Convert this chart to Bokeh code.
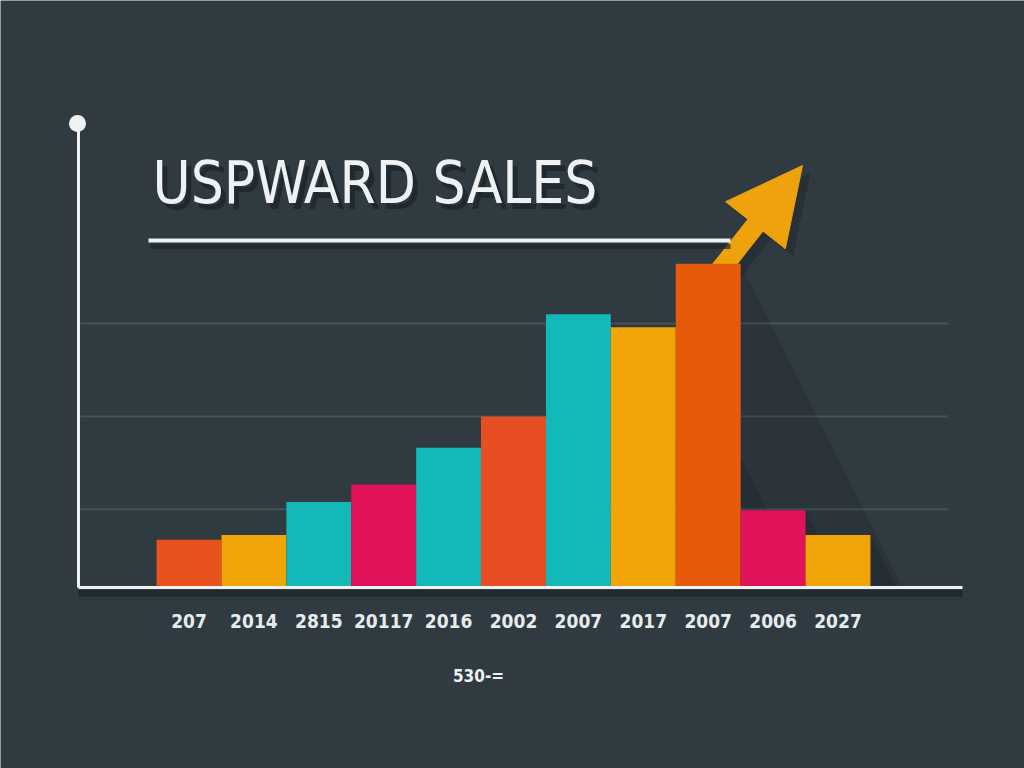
from bokeh.plotting import figure
from bokeh.models import Range1d, Arrow, NormalHead
from bokeh.core.properties import value
from bokeh.embed import file_html
from bokeh.resources import INLINE

# ---- data ----
labels = ["207", "2014", "2815", "20117", "2016", "2002", "2007", "2017", "2007", "2006", "2027"]
sales = [52, 57, 93, 112, 152, 186, 297, 283, 352, 84, 57]
colors = ["#e8521f", "#f0a406", "#13b9b8", "#e0135a", "#13b9b8", "#e84e24",
          "#13b9b8", "#f0a406", "#e65b09", "#e0135a", "#f0a406"]
grid_values = [85, 186, 287]
title = "USPWARD SALES"
note = "530-="

# ---- layout / style ----
W, H = 1024, 768
BG = "#2f3a41"
WHITE = "#eef2f3"
ORANGE = "#eea20c"
SHADOW = "#1d262b"
FONT = value("DejaVu Sans Condensed, DejaVu Sans, sans-serif")

X0PX, DXPX = 188.5, 64.9   # pixel centre of first category, px per category
Y0PX, DYPX = 587.0, 0.92   # baseline pixel row, px per sales unit


def xd(px):
    return (px - X0PX) / DXPX


def yd(py):
    return (Y0PX - py) / DYPX


p = figure(width=W, height=H,
           x_range=Range1d(xd(0), xd(W)), y_range=Range1d(yd(H), yd(0)),
           x_axis_type=None, y_axis_type=None,
           toolbar_location=None, output_backend="svg",
           min_border=0, background_fill_color=BG, border_fill_color=BG,
           outline_line_color=None)
p.title.visible = False

idx = list(range(len(sales)))

# horizontal guide lines
gx0, gx1 = xd(80), xd(948)
p.segment(x0=[gx0] * len(grid_values), x1=[gx1] * len(grid_values),
          y0=grid_values, y1=grid_values, line_color="#47535a", line_width=2)

# long bar shadows
sh_xs, sh_ys = [], []
for i, v in zip(idx, sales):
    r = i + 0.5
    sh_xs.append([r, r + 0.5 * v * DYPX / DXPX, r])
    sh_ys.append([v, 0, 0])
p.patches(xs=sh_xs, ys=sh_ys, fill_color="#000000", fill_alpha=0.1, line_color=None)

# arrow (behind bars) with shadow
ax0, ay0 = xd(713), yd(278)
tipx, tipy = xd(802), yd(165)
shadow_arrow = Arrow(x_start=ax0 + 0.12, y_start=ay0 - 8, x_end=tipx + 0.12, y_end=tipy - 8,
                     line_color=SHADOW, line_alpha=0.45, line_width=20,
                     end=NormalHead(size=76, fill_color=SHADOW, fill_alpha=0.45, line_color=None),
                     level="underlay")
p.add_layout(shadow_arrow)
arrow = Arrow(x_start=ax0, y_start=ay0, x_end=tipx, y_end=tipy,
              line_color=ORANGE, line_width=20,
              end=NormalHead(size=76, fill_color=ORANGE, line_color=ORANGE, line_width=1),
              level="underlay")
p.add_layout(arrow)

# bars
p.vbar(x=idx, top=sales, bottom=0, width=1.0, fill_color=colors, line_color=None)

# axis lines
p.segment(x0=[xd(78)], y0=[yd(593)], x1=[xd(962)], y1=[yd(593)], line_color="#1c2428",
          line_width=7, line_alpha=0.7)
p.segment(x0=[xd(78)], y0=[0], x1=[xd(962)], y1=[0], line_color=WHITE, line_width=3)
p.segment(x0=[xd(78)], y0=[0], x1=[xd(78)], y1=[yd(124)], line_color=WHITE, line_width=3)
p.scatter(x=[xd(77)], y=[yd(123)], size=17, fill_color=WHITE, line_color=None)

# tick labels
p.text(x=idx, y=[0] * len(idx), text=labels, y_offset=33,
       text_align="center", text_baseline="middle", text_font=FONT,
       text_font_size="19px", text_font_style="bold", text_color="#e6ecee")

# title with shadow + underline
for dx, dy, col, alpha in [(5, 6, SHADOW, 0.8), (0, 0, WHITE, 1.0)]:
    p.text(x=[xd(152)], y=[yd(182)], text=[title], x_offset=dx, y_offset=dy,
           text_align="left", text_baseline="middle", text_font=FONT,
           text_font_size="58px", text_font_style="normal", text_color=col, text_alpha=alpha)
p.segment(x0=[xd(150)], y0=[yd(246)], x1=[xd(730)], y1=[yd(246)],
          line_color=SHADOW, line_width=5, line_alpha=0.7)
p.segment(x0=[xd(148)], y0=[yd(240)], x1=[xd(730)], y1=[yd(240)],
          line_color=WHITE, line_width=4)

# bottom note
p.text(x=[xd(478)], y=[yd(675)], text=[note], text_align="center", text_baseline="middle",
       text_font=FONT, text_font_size="17px", text_font_style="bold", text_color=WHITE)

open("out.html", "w").write(file_html(p, INLINE))
